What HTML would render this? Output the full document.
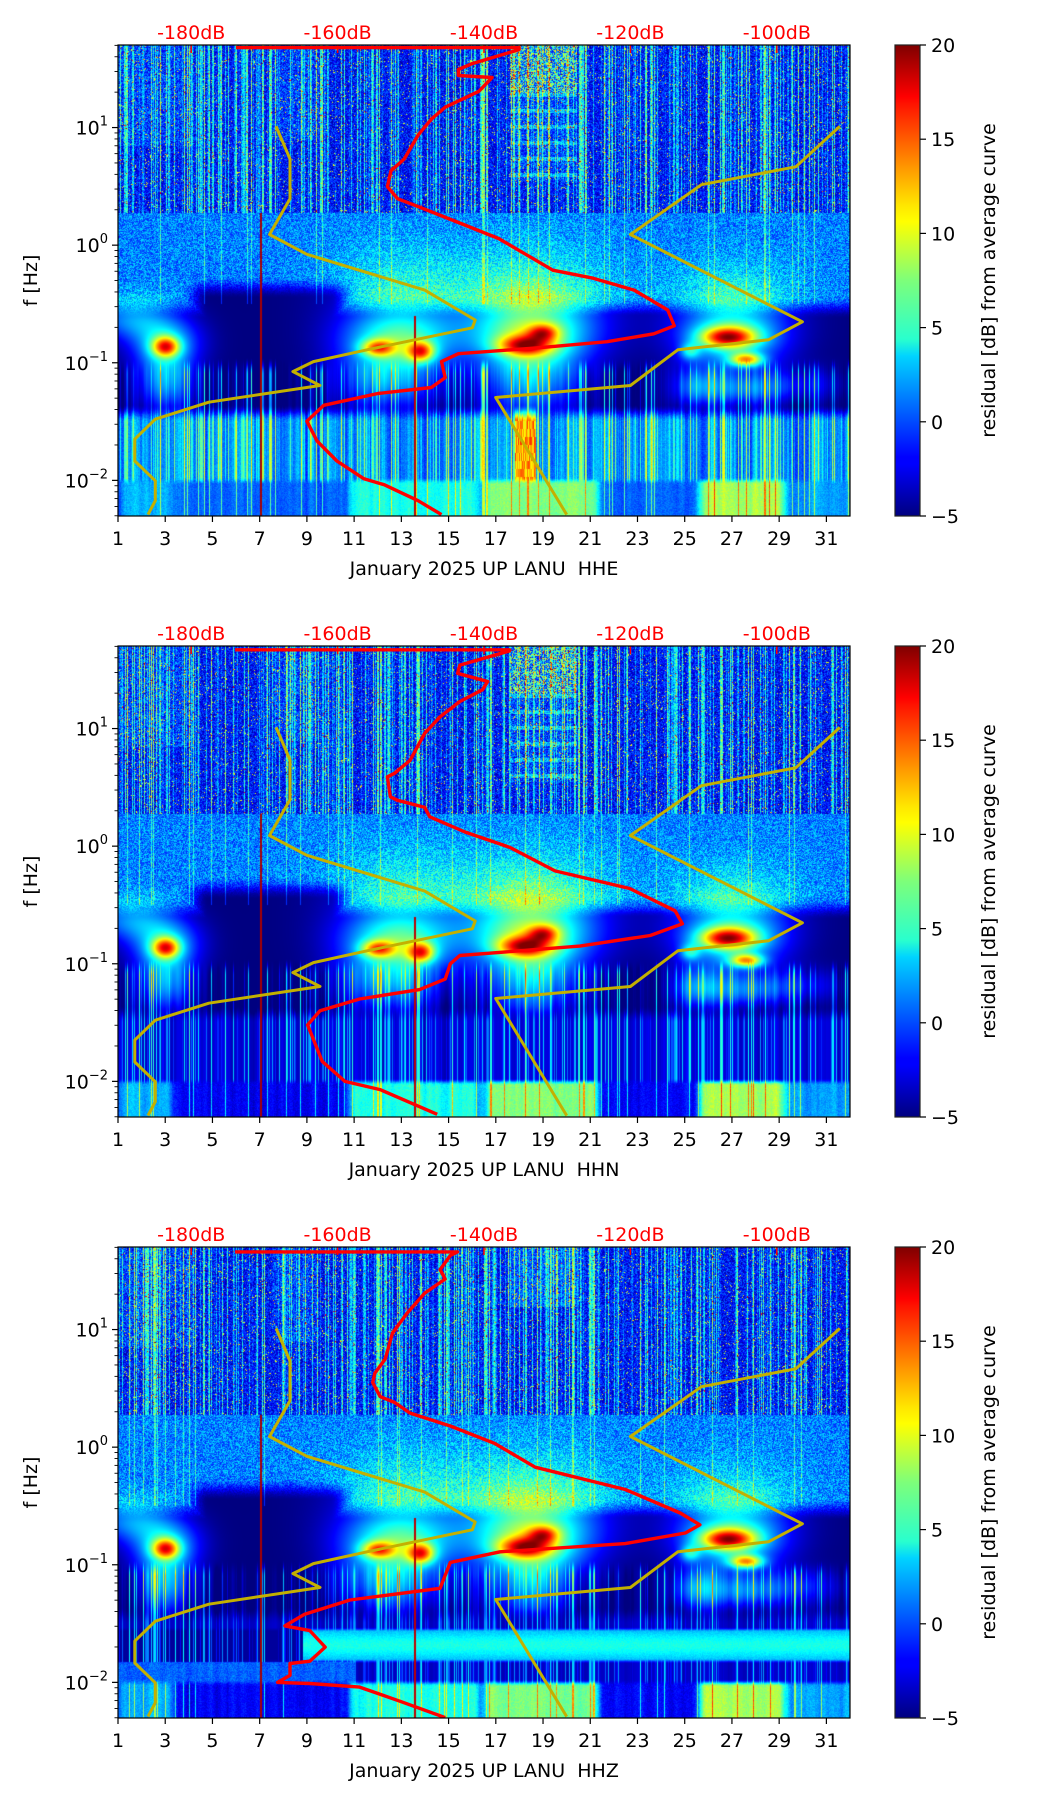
<!DOCTYPE html>
<html><head><meta charset="utf-8">
<style>
html,body{margin:0;padding:0;background:#fff;}
#wrap{position:relative;width:1052px;height:1806px;overflow:hidden;background:#fff;}
canvas{position:absolute;}
svg{position:absolute;left:0;top:0;}
text{font-family:"DejaVu Sans","Liberation Sans",sans-serif;}
</style></head>
<body>
<div id="wrap">
<canvas id="c0" width="732" height="471" style="left:118px;top:45px"></canvas>
<canvas id="c1" width="732" height="471" style="left:118px;top:646px"></canvas>
<canvas id="c2" width="732" height="471" style="left:118px;top:1247px"></canvas>
<svg id="svg" width="1052" height="1806"></svg>
</div>
<script>
// ---- data arrays (dB and log10 frequency) ----
const dayTicks=[1,3,5,7,9,11,13,15,17,19,21,23,25,27,29,31];
const dbTicks=[-180,-160,-140,-120,-100];
const dbTickLabels=["-180dB","-160dB","-140dB","-120dB","-100dB"];
const freqExp=[1,0,-1,-2];
const cbTicks=[-5,0,5,10,15,20];
const cbTickLabels=["\u22125","0","5","10","15","20"];
const components=["HHE","HHN","HHZ"];

const redDb1=[-173.9,-135.2,-135.2,-141.6,-143.5,-143.5,-138.9,-140.7,-145.3,-147.2,-149.0,-150.9,-152.7,-153.2,-151.8,-149.0,-143.5,-138.0,-134.3,-130.6,-125.1,-119.5,-114.9,-114.0,-116.8,-123.2,-132.4,-143.5,-145.8,-145.3,-147.2,-154.5,-161.9,-164.2,-162.8,-160.1,-156.4,-153.6,-149.0,-145.8];
const redLogF1=[1.68,1.68,1.663,1.544,1.494,1.443,1.426,1.308,1.173,1.071,0.936,0.733,0.632,0.497,0.395,0.328,0.193,0.057,-0.078,-0.213,-0.281,-0.382,-0.551,-0.686,-0.754,-0.821,-0.872,-0.923,-0.990,-1.126,-1.210,-1.261,-1.362,-1.497,-1.666,-1.835,-1.987,-2.038,-2.173,-2.291];

const redDb2=[-174.0,-136.5,-136.5,-143.3,-143.6,-139.5,-140.2,-143.3,-146.0,-148.1,-150.1,-152.2,-153.2,-152.8,-151.8,-148.1,-147.4,-142.6,-136.5,-130.3,-120.1,-113.9,-112.9,-117.3,-126.9,-143.3,-144.6,-145.3,-148.8,-157.0,-162.4,-164.1,-162.1,-159.0,-154.2,-146.4];
const redLogF2=[1.67,1.67,1.66,1.54,1.47,1.40,1.33,1.23,1.10,0.96,0.73,0.62,0.59,0.42,0.39,0.33,0.25,0.12,-0.01,-0.21,-0.36,-0.55,-0.66,-0.76,-0.85,-0.93,-1.00,-1.13,-1.22,-1.30,-1.40,-1.52,-1.83,-2.00,-2.07,-2.28];

const redDb3=[-174.0,-143.6,-144.6,-146.0,-145.3,-148.1,-150.5,-152.5,-153.5,-154.9,-155.2,-154.2,-152.2,-150.1,-144.6,-138.5,-133.0,-120.7,-113.2,-110.5,-112.5,-120.7,-137.8,-144.6,-145.3,-146.0,-158.3,-164.5,-167.2,-163.8,-161.7,-163.8,-166.5,-166.5,-168.2,-163.8,-157.0,-151.5,-145.3];
const redLogF3=[1.66,1.66,1.63,1.51,1.43,1.31,1.14,0.97,0.75,0.63,0.55,0.43,0.38,0.29,0.18,0.03,-0.17,-0.36,-0.56,-0.66,-0.73,-0.82,-0.89,-0.98,-1.09,-1.20,-1.30,-1.42,-1.52,-1.56,-1.70,-1.82,-1.84,-1.94,-2.00,-2.01,-2.04,-2.16,-2.30];

const yellowLeftDb=[-168.4,-166.5,-166.5,-169.3,-164.2,-148.1,-141.2,-141.6,-155.9,-163.3,-166.1,-162.4,-177.6,-184.9,-187.7,-187.7,-184.9,-184.9,-185.9];
const yellowLeftLogF=[1.010,0.733,0.395,0.091,-0.078,-0.382,-0.636,-0.703,-0.889,-0.990,-1.075,-1.193,-1.335,-1.480,-1.649,-1.835,-2.004,-2.173,-2.291];
const yellowRightDb=[-91.4,-97.4,-110.3,-120.0,-96.5,-101.1,-113.5,-120.0,-138.4,-128.7];
const yellowRightLogF=[1.010,0.666,0.514,0.091,-0.652,-0.804,-0.889,-1.193,-1.295,-2.291];

const redDb=[redDb1,redDb2,redDb3];
const redLogF=[redLogF1,redLogF2,redLogF3];

// ---- geometry ----
const AX_L=118, AX_W=732, AX_H=471;
const TOPS=[45,646,1247];
const LMAX=1.702, LMIN=-2.303, DAY0=1, DAY1=32, DB0=-190, DB1=-90;
const CB_X=895, CB_W=25;
function xDay(d){return AX_L+(d-DAY0)/(DAY1-DAY0)*AX_W;}
function xDb(db){return AX_L+(db-DB0)/(DB1-DB0)*AX_W;}
function yL(L,top){return top+(LMAX-L)/(LMAX-LMIN)*AX_H;}
function yCb(v,top){return top+(20-v)/25*AX_H;}

// ---- spectrogram texture ----
function h(a,b){let n=(Math.imul(a,374761393)+Math.imul(b,668265263))|0;n=Math.imul(n^(n>>>13),1274126177);n=n^(n>>>16);return (n>>>0)/4294967296;}
function g(d,L,d0,L0,sd,sl){const a=(d-d0)/sd,b=(L-L0)/sl;return Math.exp(-0.5*(a*a+b*b));}
function cl(t){return t<0?0:t>1?1:t;}
function jet(v){const t=cl((v+5)/25);return [cl(1.5-Math.abs(4*t-3)),cl(1.5-Math.abs(4*t-2)),cl(1.5-Math.abs(4*t-1))];}
function sm(a,b,x){const t=cl((x-a)/(b-a));return t*t*(3-2*t);}
function band(a,b,w,x){return sm(a-w,a+w,x)*(1-sm(b-w,b+w,x));}
const blobs=[[3,-0.86,0.4,0.06,13],[12,-0.87,0.5,0.05,11],[13.8,-0.9,0.4,0.06,13],[18.2,-0.85,0.8,0.06,12],[19,-0.74,0.45,0.05,9],[26.8,-0.78,0.8,0.06,14],[27.6,-0.97,0.5,0.04,13],[25.2,-0.9,0.3,0.05,6]];
const halos=[[3,-0.82,1.0,0.15,8],[12.8,-0.8,1.6,0.17,9],[18.5,-0.75,1.8,0.2,10],[27,-0.78,1.5,0.18,9],[1.5,-0.62,1.2,0.12,6],[13,-0.45,2.0,0.3,4],[18.5,-0.45,2.2,0.3,5],[27,-0.5,1.8,0.25,4],
[3,-1.15,0.8,0.18,7],[12.5,-1.15,1.5,0.18,7],[18.5,-1.15,1.3,0.22,7],[25.5,-1.2,0.7,0.12,6],[27.5,-1.22,1.2,0.1,6],[30,-1.18,1.2,0.1,3]];
function bottomB(p,d){
  return 4.5*band(1,3.3,0.3,d)+2.5*band(3.3,10.8,0.3,d)*(p==0?1:0)+7*band(10.8,16.3,0.3,d)+9.5*band(16.5,21.3,0.3,d)+2.5*band(21.3,25.6,0.3,d)*(p==0?1:0)+10.5*band(25.6,29.2,0.3,d)+4*band(29.2,33,0.3,d);
}
function render(p){
  const cv=document.getElementById('c'+p), ctx=cv.getContext('2d');
  const W=cv.width,H=cv.height, img=ctx.createImageData(W,H), D=img.data;
  const cs=[],csm=[];
  for(let x=0;x<W;x++){cs.push(h(x*13+7,p*91+3));}
  for(let x=0;x<W;x++){let s=0;for(let k=-2;k<=2;k++){s+=h(((x+k+W)%W)*5+1,p*17+5);}csm.push(s/5);}
  for(let y=0;y<H;y++){
    const L=LMAX-y/H*(LMAX-LMIN);
    for(let x=0;x<W;x++){
      const d=DAY0+x/W*(DAY1-DAY0);
      const r=h(x*3+p,y*7+p*13);
      let v;
      if(L>0.28){
        v=-1.6+(r-0.5)*5.5;
        if(r>0.97) v+=9;
        if(cs[x]>0.55) v+=(cs[x]-0.55)*26*(0.6+0.4*h(x,y+5000));
        if(d<4.2&&L>0.85) v+=2.5*h(x+11,y);
        if(d>7.5&&d<9.5&&L>0.9) v+=2.5*h(x+17,y);
        if(d>17.6&&d<20.4&&p<2){ if(L>1.3) v+=(h(x+3,y*3)>0.6?9:2); else if(L>0.55) v+=2.5*h(x+3,y*3)+((y>>2)%4==0?3:0);}
        if(d>17.6&&d<20.4&&L>1.2&&p==2) v+=2;
      } else {
        let base=1.3+(r-0.5)*5;
        let dk=sm(-0.42,-0.62,L);
        dk=Math.max(dk,band(4.2,10.6,0.6,d)*sm(-0.25,-0.45,L));
        dk=Math.max(dk,band(21,24.5,0.5,d)*sm(-0.45,-0.6,L));
        v=base*(1-dk)+(-5)*dk;
        for(const b of halos){v+=b[4]*g(d,L,b[0],b[1],b[2],b[3]);}
        for(const b of blobs){v+=b[4]*g(d,L,b[0],b[1],b[2],b[3]);}
        if(L>-0.5&&cs[x]>0.95) v+=4;
        const lw=sm(-0.95,-1.1,L);
        if(lw>0){
          let lo=v;
          if(cs[x]>0.8) lo+=(cs[x]-0.8)*55*sm(-2.3,-1.1,L);
          lo+=(csm[x]-0.5)*4;
          const dp=sm(-1.35,-1.5,L);
          if(dp>0){
            let deep;
            if(p==0){deep=-2.5+csm[x]*8+(cs[x]>0.6?(cs[x]-0.6)*22:0)+(r-0.5)*1.5;
              if(d>17.8&&d<18.7) deep=10+6*h(x,(y>>3));}
            else if(p==1){deep=-4.3+csm[x]*3+(cs[x]>0.6?(cs[x]-0.6)*22:0);}
            else {
              const bb=band(-1.815,-1.545,0.02,L);
              const cyan=(d>8.8?1.5+3*g(0,L,0,-1.68,1,0.08)+r:-4.3+(cs[x]>0.6?(cs[x]-0.6)*22:0));
              const other=(d<11&&L<-1.82?-1.5+r*2+csm[x]*2:-4.3+csm[x]*2+(cs[x]>0.65?(cs[x]-0.65)*22:0));
              deep=bb*cyan+(1-bb)*other;
            }
            const bw=sm(-1.97,-2.03,L);
            const bot=-3.5+bottomB(p,d)+csm[x]*3+(r-0.5)*1.5+(cs[x]>0.93?6:0);
            deep=deep*(1-bw)+bot*bw;
            lo=lo*(1-dp)+deep*dp;
          }
          v=v*(1-lw)+lo*lw;
        }
        if(Math.abs(d-7.05)<0.04&&L<0.3) v=19;
        if(Math.abs(d-13.55)<0.04&&L<-0.6) v=18.5;
      }
      const c=jet(v), i=(y*W+x)*4;
      D[i]=c[0]*255;D[i+1]=c[1]*255;D[i+2]=c[2]*255;D[i+3]=255;
    }
  }
  ctx.putImageData(img,0,0);
}
for(let p=0;p<3;p++) render(p);

// ---- SVG overlay ----
const NS='http://www.w3.org/2000/svg';
const svg=document.getElementById('svg');
function el(tag,attrs,parent){const e=document.createElementNS(NS,tag);for(const k in attrs)e.setAttribute(k,attrs[k]);(parent||svg).appendChild(e);return e;}
const defs=el('defs',{});
const grad=el('linearGradient',{id:'jetg',x1:'0',y1:'1',x2:'0',y2:'0'},defs);
[[0,'#00007f'],[0.11,'#0000ff'],[0.125,'#0000ff'],[0.34,'#00d4ff'],[0.375,'#29ffce'],[0.5,'#7dff7a'],[0.625,'#ffff00'],[0.66,'#ffe600'],[0.875,'#ff1300'],[0.89,'#ff0000'],[1,'#7f0000']].forEach(s=>el('stop',{offset:s[0],'stop-color':s[1]},grad));

for(let p=0;p<3;p++){
  const top=TOPS[p], bot=top+AX_H;
  const g0=el('g',{});
  
  
  const cp=el('clipPath',{id:'clip'+p},defs);
  el('rect',{x:AX_L,y:top,width:AX_W,height:AX_H},cp);
  const cg=el('g',{'clip-path':'url(#clip'+p+')'},g0);
  [[yellowLeftDb,yellowLeftLogF,'yellow-curve-low'],[yellowRightDb,yellowRightLogF,'yellow-curve-high']].forEach(s=>{
    const pts=s[0].map((db,i)=>xDb(db).toFixed(1)+','+yL(s[1][i],top).toFixed(1)).join(' ');
    const pl=el('polyline',{points:pts,fill:'none',stroke:'#c4b000','stroke-width':3,'stroke-linejoin':'round'},cg);
    
    
  });
  const rp=redDb[p].map((db,i)=>xDb(db).toFixed(1)+','+yL(redLogF[p][i],top).toFixed(1)).join(' ');
  const rl=el('polyline',{points:rp,fill:'none',stroke:'#ff0000','stroke-width':3.4,'stroke-linejoin':'round'},cg);
  
  
  dbTicks.forEach(db=>{el('line',{x1:xDb(db),x2:xDb(db),y1:top,y2:top+8,stroke:'#ff0000','stroke-width':1.5},g0);});
  const fr=el('rect',{x:AX_L,y:top,width:AX_W,height:AX_H,fill:'none',stroke:'#000','stroke-width':1.2},g0);
  
  
  dayTicks.forEach(d=>{
    const x=xDay(d);
    el('line',{x1:x,x2:x,y1:bot,y2:bot+6,stroke:'#000','stroke-width':1.2},g0);
    const t=el('text',{x:x,y:bot+29,'font-size':19,'text-anchor':'middle',fill:'#000'},g0);
    t.textContent=d;
    
    
  });
  const xl=el('text',{x:AX_L+AX_W/2,y:bot+59,'font-size':19,'text-anchor':'middle',fill:'#000','xml:space':'preserve'},g0);
  xl.textContent='January 2025 UP LANU\u00a0 '+components[p];
  
  
  dbTicks.forEach((db,i)=>{
    const t=el('text',{x:xDb(db),y:top-6,'font-size':19,'text-anchor':'middle',fill:'#ff0000'},g0);
    t.textContent=dbTickLabels[i];
    
    
  });
  for(let e=-3;e<=1;e++){
    for(let k=1;k<=9;k++){
      const L=e+Math.log10(k);
      if(L<LMIN||L>LMAX) continue;
      const y=yL(L,top);
      el('line',{x1:AX_L-(k==1?6:3.5),x2:AX_L,y1:y,y2:y,stroke:'#000','stroke-width':k==1?1.2:0.9},g0);
    }
  }
  freqExp.forEach(e=>{
    const y=yL(e,top);
    const t=el('text',{x:AX_L-10,y:y+7,'font-size':19,'text-anchor':'end',fill:'#000'},g0);
    
    
    const a=el('tspan',{},t); a.textContent='10';
    const b=el('tspan',{dy:-9,'font-size':13},t); b.textContent=(e<0?'\u2212':'')+Math.abs(e);
  });
  const yl=el('text',{x:0,y:0,'font-size':19,'text-anchor':'middle',fill:'#000',transform:'translate(37,'+(top+AX_H/2)+') rotate(-90)'},g0);
  yl.textContent='f [Hz]';
  
  
  const cb=el('rect',{x:CB_X,y:top,width:CB_W,height:AX_H,fill:'url(#jetg)',stroke:'#222','stroke-width':1.2},g0);
  
  
  cbTicks.forEach((v,i)=>{
    const y=yCb(v,top);
    el('line',{x1:CB_X+CB_W,x2:CB_X+CB_W+6,y1:y,y2:y,stroke:'#000','stroke-width':1.2},g0);
    const t=el('text',{x:CB_X+CB_W+11,y:y+7,'font-size':19,fill:'#000'},g0);
    t.textContent=cbTickLabels[i];
    
    
  });
  const cl2=el('text',{x:0,y:0,'font-size':19,'text-anchor':'middle',fill:'#000',transform:'translate(995,'+(top+AX_H/2)+') rotate(-90)'},g0);
  cl2.textContent='residual [dB] from average curve';
  
  
}
</script>
</body></html>
